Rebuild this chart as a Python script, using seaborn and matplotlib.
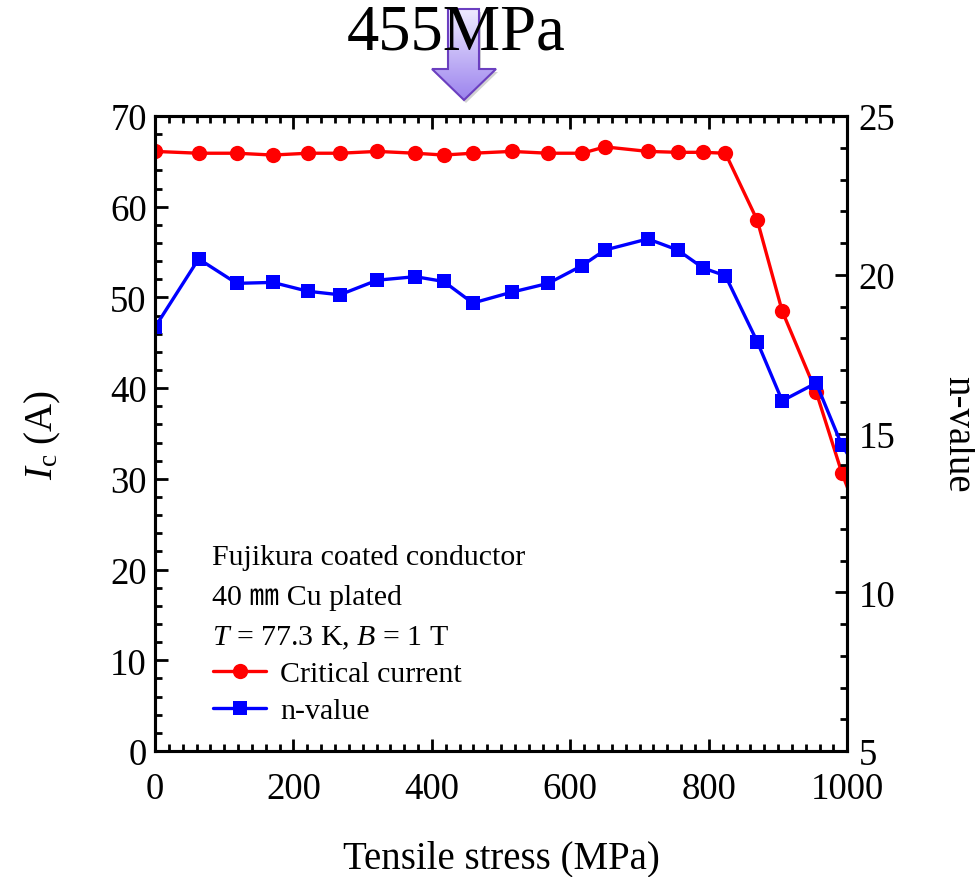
import numpy as np
import matplotlib
matplotlib.use("Agg")
import matplotlib.pyplot as plt
import seaborn as sns
from matplotlib.colors import LinearSegmentedColormap
from matplotlib.lines import Line2D
from matplotlib.patches import Polygon
from matplotlib.ticker import MultipleLocator

# Data (last point lies past 1000 MPa and is clipped)
stress = [0, 63, 118, 170, 221, 267, 321, 376, 417, 459, 515, 568, 617, 650,
          712, 755, 792, 824, 870, 906, 955, 992, 1020]
ic = [66.1, 65.9, 65.9, 65.7, 65.9, 65.9, 66.1, 65.9, 65.7, 65.9, 66.1, 65.9,
      65.9, 66.6, 66.1, 66.0, 66.0, 65.9, 58.5, 48.5, 39.6, 30.7, 25.1]
n_value = [18.35, 20.5, 19.73, 19.76, 19.48, 19.37, 19.83, 19.94, 19.79, 19.11,
           19.45, 19.73, 20.29, 20.78, 21.13, 20.78, 20.21, 19.97, 17.89, 16.03,
           16.59, 14.64, 13.7]

note_lines = ["Fujikura coated conductor", "40 ㎜ Cu plated",
              "$T$ = 77.3 K, $B$ = 1 T"]
arrow_text = "455MPa"

sns.set_style("ticks")
plt.rcParams["font.family"] = ["Liberation Serif", "Noto Sans CJK JP"]
plt.rcParams["mathtext.fontset"] = "custom"
plt.rcParams["mathtext.rm"] = "Liberation Serif"
plt.rcParams["mathtext.it"] = "Liberation Serif:italic"
# seaborn greys the text, the reference is plain black
for key in ("text.color", "axes.labelcolor", "xtick.color", "ytick.color",
            "axes.edgecolor"):
    plt.rcParams[key] = "black"

fig = plt.figure(figsize=(9.75, 8.78), dpi=100)
ax = fig.add_axes([0.159, 0.1435, 0.71, 0.7232])
ax2 = ax.twinx()

# Critical current on the left axis, n-value on the right
sns.lineplot(x=stress, y=ic, ax=ax, color="red", marker="o", markersize=11,
             markeredgewidth=0, linewidth=2.4, label="Critical current")
sns.lineplot(x=stress, y=n_value, ax=ax2, color="blue", marker="s", markersize=10,
             markeredgewidth=0, linewidth=2.4, label="n-value")
for a in (ax, ax2):
    if a.get_legend() is not None:
        a.get_legend().remove()

ax.set_xlim(0, 1000)
ax.set_ylim(0, 70)
ax2.set_ylim(5, 25)

ax.xaxis.set_major_locator(MultipleLocator(200))
ax.xaxis.set_minor_locator(MultipleLocator(20))
ax.yaxis.set_major_locator(MultipleLocator(10))
ax.yaxis.set_minor_locator(MultipleLocator(2))
ax2.yaxis.set_major_locator(MultipleLocator(5))
ax2.yaxis.set_minor_locator(MultipleLocator(1))

for a in (ax, ax2):
    for s in a.spines.values():
        s.set_linewidth(2.2)
        s.set_visible(True)
        s.set_color("black")

ax.tick_params(which="both", direction="in", top=True, right=False, width=2,
               colors="black")
ax.tick_params(which="major", length=9, labelsize=26.5)
ax.tick_params(which="minor", length=5)
ax.tick_params(axis="x", which="major", pad=15)
ax.tick_params(axis="y", which="major", pad=6)
ax2.tick_params(which="both", direction="in", left=False, right=True, width=2,
                colors="black")
ax2.tick_params(which="major", length=9, labelsize=26.5, pad=8)
ax2.tick_params(which="minor", length=5)

ax.set_xlabel("Tensile stress (MPa)", fontsize=28, labelpad=24)
ax.set_ylabel(r"$I_{\mathrm{c}}$ (A)", fontsize=28, labelpad=34)
ax2.set_ylabel("n-value", fontsize=28, rotation=270, labelpad=58)

# Notes and legend
for i, line in enumerate(note_lines):
    ax.text(0.082, 0.3055 - i * 0.063, line, transform=ax.transAxes,
            fontsize=21.5, va="center",
            family=["Liberation Serif", "Noto Sans CJK JP"])
handles = [Line2D([], [], color="red", marker="o", markersize=11, markeredgewidth=0,
                  linewidth=2.4),
           Line2D([], [], color="blue", marker="s", markersize=10, markeredgewidth=0,
                  linewidth=2.4)]
ax2.legend(handles, ["Critical current", "n-value"], loc="upper left",
           bbox_to_anchor=(0.066, 0.162), frameon=False, fontsize=21.5,
           handlelength=1.8, handletextpad=0.45, labelspacing=0.35,
           borderaxespad=0)

# Arrow marking 455 MPa, drawn in pixel coordinates on an overlay
ov = fig.add_axes([0, 0, 1, 1])
ov.set_xlim(0, 975)
ov.set_ylim(878, 0)
ov.axis("off")
pts = [(448, 10), (479, 10), (479, 70), (496, 70), (464, 101), (432, 70), (448, 70)]
shadow = Polygon([(x + 2, y + 3) for x, y in pts], closed=True, facecolor="gray",
                 edgecolor="none", alpha=0.35)
ov.add_patch(shadow)
arrow = Polygon(pts, closed=True, facecolor="none", edgecolor="#6b3fc0",
                linewidth=1.5, zorder=3)
ov.add_patch(arrow)
cmap = LinearSegmentedColormap.from_list("arrow", ["#eeeaff", "#9c84ee"])
grad = np.linspace(0, 1, 100).reshape(-1, 1)
img = ov.imshow(grad, cmap=cmap, extent=[430, 498, 101, 10], aspect="auto",
                zorder=2)
img.set_clip_path(arrow)
ov.set_xlim(0, 975)
ov.set_ylim(878, 0)
ov.text(456, 50, arrow_text, fontsize=46.5, ha="center", va="baseline", zorder=5)

fig.savefig("out.png", dpi=100)
